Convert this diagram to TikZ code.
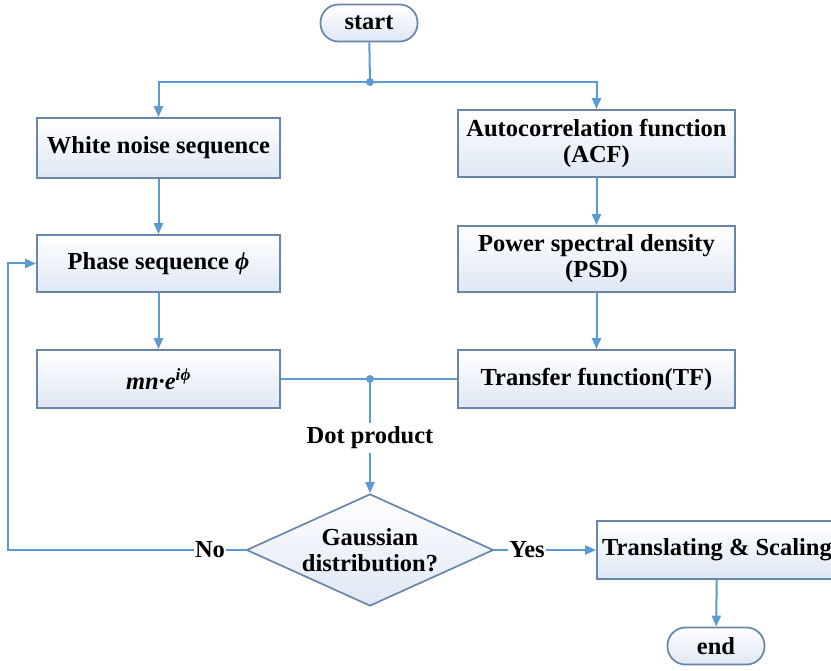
\documentclass[tikz,border=0pt]{standalone}
\usepackage{fontspec}
\setmainfont{Liberation Serif}
\usetikzlibrary{shapes.geometric,arrows.meta}
\definecolor{ln}{RGB}{91,155,213}
\definecolor{bd}{RGB}{104,134,168}
\definecolor{fl}{RGB}{222,231,244}
\begin{document}
\begin{tikzpicture}[x=1pt,y=-1pt,
  font=\fontsize{24.5}{26}\selectfont\bfseries,
  shade/.style={top color=white, bottom color=fl},
  box/.style={draw=bd, line width=1.7pt, shade, minimum width=243pt, minimum height=58pt, align=center, inner sep=2pt},
  term/.style={draw=bd, line width=1.7pt, shade, rounded corners=18pt, minimum width=97pt, minimum height=37pt, inner sep=2pt},
  conn/.style={draw=ln, line width=2pt},
  arr/.style={conn, -{Triangle[length=11pt,width=9pt]}},
  jdot/.style={circle, fill=ln, inner sep=0pt, minimum size=8pt},
  lbl/.style={inner sep=1pt}]
\useasboundingbox (0,0) rectangle (831,671);
\clip (0,0) rectangle (831,671);

\node[term] (start) at (369,23) {start};
\node[box, minimum height=60pt] (wn) at (158.5,148) {White noise sequence};
\node[box, minimum width=277pt, minimum height=67pt] (acf) at (596.5,143.5) {Autocorrelation function\\(ACF)};
\node[box, minimum height=57pt] (ph) at (158.5,263.5) {Phase sequence {\itshape ϕ}};
\node[box, minimum width=277pt, minimum height=66pt] (psd) at (596.5,259) {Power spectral density\\(PSD)};
\node[box] (mn) at (158.5,379) {\itshape mn·e\textsuperscript{iϕ}};
\node[box, minimum width=277pt] (tf) at (596.5,379) {Transfer function(TF)};
\node[diamond, draw=bd, line width=1.7pt, shade, minimum width=247pt, minimum height=112pt, aspect=2.2, inner sep=0pt, align=center] (gd) at (370,550) {Gaussian\\distribution?};
\node[box, minimum width=240pt] (ts) at (717,550) {Translating \& Scaling};
\node[term] (end) at (716,646) {end};

\coordinate (j1) at (370,82);
\draw[conn] (start) -- (j1);
\draw[arr] (j1) -| (wn.north);
\draw[arr] (j1) -| (acf.north);
\node[jdot] at (j1) {};

\draw[arr] (wn) -- (ph);
\draw[arr] (acf) -- (psd);
\draw[arr] (ph) -- (mn);
\draw[arr] (psd) -- (tf);

\coordinate (j2) at (370,379);
\draw[conn] (mn) -- (tf);
\node[lbl, inner sep=4pt] (dp) at (370,438) {Dot product};
\draw[conn] (j2) -- (dp);
\draw[arr] (dp) -- (gd);
\node[jdot] at (j2) {};

\node[lbl] (no) at (210,550) {No};
\coordinate (lft) at (8,550);
\draw[conn] (gd.west) -- (no);
\draw[arr] (no.west) -- (lft) |- (ph.west);

\node[lbl] (yes) at (527,550) {Yes};
\draw[conn] (gd.east) -- (yes);
\draw[arr] (yes) -- (ts);

\draw[arr] (ts) -- (end);
\end{tikzpicture}
\end{document}
